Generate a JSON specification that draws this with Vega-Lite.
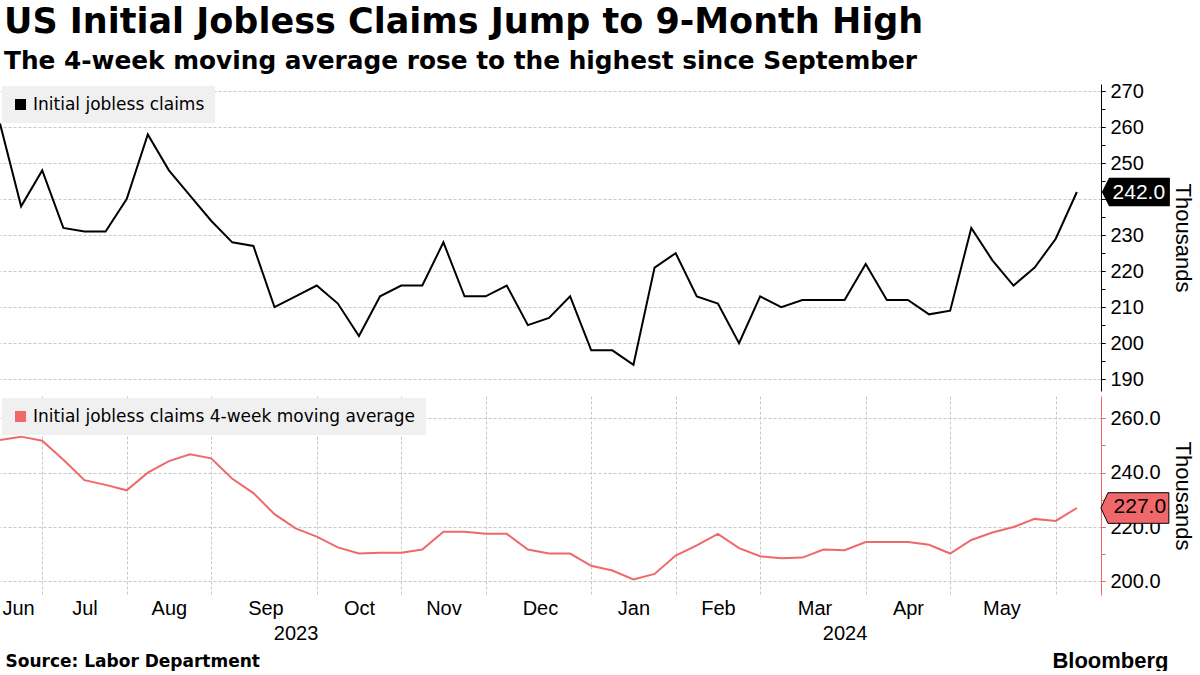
{
  "$schema": "https://vega.github.io/schema/vega-lite/v6.json",
  "background": "white",
  "padding": {"left": 0, "top": 4, "right": 0, "bottom": 0},
  "title": {
    "text": "US Initial Jobless Claims Jump to 9-Month High",
    "subtitle": "The 4-week moving average rose to the highest since September",
    "anchor": "start",
    "dx": 4,
    "font": "DejaVu Sans",
    "fontSize": 35,
    "fontWeight": "bold",
    "color": "#000000",
    "subtitleFont": "DejaVu Sans",
    "subtitleFontSize": 24.8,
    "subtitleFontWeight": "bold",
    "subtitleColor": "#000000",
    "subtitlePadding": 9,
    "offset": 7.5
  },
  "datasets": {
    "weekly": [
      {"date": "2023-06-17", "claims": 261, "avg": 252},
      {"date": "2023-06-24", "claims": 238, "avg": 253.25},
      {"date": "2023-07-01", "claims": 248, "avg": 251.75},
      {"date": "2023-07-08", "claims": 232, "avg": 244.75},
      {"date": "2023-07-15", "claims": 231, "avg": 237.25},
      {"date": "2023-07-22", "claims": 231, "avg": 235.5},
      {"date": "2023-07-29", "claims": 240, "avg": 233.5},
      {"date": "2023-08-05", "claims": 258, "avg": 240},
      {"date": "2023-08-12", "claims": 248, "avg": 244.25},
      {"date": "2023-08-19", "claims": 241, "avg": 246.75},
      {"date": "2023-08-26", "claims": 234, "avg": 245.25},
      {"date": "2023-09-02", "claims": 228, "avg": 237.75},
      {"date": "2023-09-09", "claims": 227, "avg": 232.5},
      {"date": "2023-09-16", "claims": 210, "avg": 224.75},
      {"date": "2023-09-23", "claims": 213, "avg": 219.5},
      {"date": "2023-09-30", "claims": 216, "avg": 216.5},
      {"date": "2023-10-07", "claims": 211, "avg": 212.5},
      {"date": "2023-10-14", "claims": 202, "avg": 210.25},
      {"date": "2023-10-21", "claims": 213, "avg": 210.5},
      {"date": "2023-10-28", "claims": 216, "avg": 210.5},
      {"date": "2023-11-04", "claims": 216, "avg": 211.75},
      {"date": "2023-11-11", "claims": 228, "avg": 218.25},
      {"date": "2023-11-18", "claims": 213, "avg": 218.25},
      {"date": "2023-11-25", "claims": 213, "avg": 217.5},
      {"date": "2023-12-02", "claims": 216, "avg": 217.5},
      {"date": "2023-12-09", "claims": 205, "avg": 211.75},
      {"date": "2023-12-16", "claims": 207, "avg": 210.25},
      {"date": "2023-12-23", "claims": 213, "avg": 210.25},
      {"date": "2023-12-30", "claims": 198, "avg": 205.75},
      {"date": "2024-01-06", "claims": 198, "avg": 204},
      {"date": "2024-01-13", "claims": 194, "avg": 200.75},
      {"date": "2024-01-20", "claims": 221, "avg": 202.75},
      {"date": "2024-01-27", "claims": 225, "avg": 209.5},
      {"date": "2024-02-03", "claims": 213, "avg": 213.25},
      {"date": "2024-02-10", "claims": 211, "avg": 217.5},
      {"date": "2024-02-17", "claims": 200, "avg": 212.25},
      {"date": "2024-02-24", "claims": 213, "avg": 209.25},
      {"date": "2024-03-02", "claims": 210, "avg": 208.5},
      {"date": "2024-03-09", "claims": 212, "avg": 208.75},
      {"date": "2024-03-16", "claims": 212, "avg": 211.75},
      {"date": "2024-03-23", "claims": 212, "avg": 211.5},
      {"date": "2024-03-30", "claims": 222, "avg": 214.5},
      {"date": "2024-04-06", "claims": 212, "avg": 214.5},
      {"date": "2024-04-13", "claims": 212, "avg": 214.5},
      {"date": "2024-04-20", "claims": 208, "avg": 213.5},
      {"date": "2024-04-27", "claims": 209, "avg": 210.25},
      {"date": "2024-05-04", "claims": 232, "avg": 215.25},
      {"date": "2024-05-11", "claims": 223, "avg": 218},
      {"date": "2024-05-18", "claims": 216, "avg": 220},
      {"date": "2024-05-25", "claims": 221, "avg": 223},
      {"date": "2024-06-01", "claims": 229, "avg": 222.25},
      {"date": "2024-06-08", "claims": 242, "avg": 227}
    ],
    "latest": [
      {"date": "2024-06-08", "claims": 242, "avg": 227}
    ]
  },
  "vconcat": [
    {
      "width": 1101,
      "height": 307,
      "layer": [
        {
          "data": {"name": "weekly"},
          "mark": {"type": "line", "color": "#000000", "strokeWidth": 2, "clip": true},
          "encoding": {
            "x": {
              "field": "date", "type": "temporal",
              "scale": {"domain": [{"year": 2023, "month": 6, "date": 17, "utc": true}, {"year": 2024, "month": 6, "date": 16, "utc": true}]},
              "axis": {
                "orient": "bottom",
                "values": [
                  {"year": 2023, "month": 7, "date": 1, "utc": true},
                  {"year": 2023, "month": 7, "date": 29, "utc": true},
                  {"year": 2023, "month": 8, "date": 26, "utc": true},
                  {"year": 2023, "month": 9, "date": 30, "utc": true},
                  {"year": 2023, "month": 10, "date": 28, "utc": true},
                  {"year": 2023, "month": 11, "date": 25, "utc": true},
                  {"year": 2023, "month": 12, "date": 30, "utc": true},
                  {"year": 2024, "month": 1, "date": 27, "utc": true},
                  {"year": 2024, "month": 2, "date": 24, "utc": true},
                  {"year": 2024, "month": 3, "date": 30, "utc": true},
                  {"year": 2024, "month": 4, "date": 27, "utc": true},
                  {"year": 2024, "month": 6, "date": 1, "utc": true}
                ],
                "grid": true, "labels": false, "ticks": false,
                "domain": true, "domainColor": "#333333", "domainWidth": 5, "offset": 2.5,
                "title": null
              }
            },
            "y": {
              "field": "claims", "type": "quantitative",
              "scale": {"domain": [186.7, 272], "nice": false, "zero": false},
              "axis": {
                "orient": "right",
                "values": [190, 200, 210, 220, 230, 240, 250, 260, 270],
                "format": "d",
                "grid": true,
                "domain": true, "domainColor": "#000000",
                "ticks": true, "tickColor": "#000000", "tickSize": 4,
                "labelPadding": 5,
                "title": "Thousands",
                "titlePadding": 27
              }
            }
          }
        },
        {
          "data": {"name": "latest"},
          "mark": {
            "type": "point",
            "shape": "M-1,0 L-0.79,-0.42 L1,-0.42 L1,0.42 L-0.79,0.42 Z",
            "size": 4624,
            "filled": true,
            "opacity": 1,
            "strokeWidth": 0,
            "xOffset": 59
          },
          "encoding": {
            "x": {"field": "date", "type": "temporal", "axis": null},
            "y": {
              "field": "claims", "type": "quantitative",
              "axis": {
                "orient": "right",
                "values": [190, 195, 200, 205, 210, 215, 220, 225, 230, 235, 240, 245, 250, 255, 260, 265, 270],
                "grid": false, "labels": false, "domain": false,
                "ticks": true, "tickColor": "#000000", "tickSize": 4,
                "title": null
              }
            },
            "color": {
              "datum": "Initial jobless claims", "type": "nominal",
              "scale": {"range": ["#000000"]},
              "legend": {"title": null, "symbolType": "square"}
            }
          }
        },
        {
          "data": {"name": "latest"},
          "mark": {"type": "text", "color": "#ffffff", "fontSize": 21, "font": "Liberation Sans", "align": "center", "baseline": "middle", "xOffset": 62, "yOffset": 1},
          "encoding": {
            "x": {"field": "date", "type": "temporal", "axis": null},
            "y": {"field": "claims", "type": "quantitative", "axis": null},
            "text": {"field": "claims", "type": "quantitative", "format": ".1f"}
          }
        }
      ],
      "resolve": {"axis": {"y": "independent"}}
    },
    {
      "width": 1101,
      "height": 199,
      "layer": [
        {
          "data": {"name": "weekly"},
          "mark": {"type": "line", "color": "#f0686a", "strokeWidth": 2, "clip": true},
          "encoding": {
            "x": {
              "field": "date", "type": "temporal",
              "scale": {"domain": [{"year": 2023, "month": 6, "date": 17, "utc": true}, {"year": 2024, "month": 6, "date": 16, "utc": true}]},
              "axis": {
                "orient": "bottom",
                "values": [
                  {"year": 2023, "month": 7, "date": 1, "utc": true},
                  {"year": 2023, "month": 7, "date": 29, "utc": true},
                  {"year": 2023, "month": 8, "date": 26, "utc": true},
                  {"year": 2023, "month": 9, "date": 30, "utc": true},
                  {"year": 2023, "month": 10, "date": 28, "utc": true},
                  {"year": 2023, "month": 11, "date": 25, "utc": true},
                  {"year": 2023, "month": 12, "date": 30, "utc": true},
                  {"year": 2024, "month": 1, "date": 27, "utc": true},
                  {"year": 2024, "month": 2, "date": 24, "utc": true},
                  {"year": 2024, "month": 3, "date": 30, "utc": true},
                  {"year": 2024, "month": 4, "date": 27, "utc": true},
                  {"year": 2024, "month": 6, "date": 1, "utc": true}
                ],
                "grid": true, "labels": false, "ticks": false, "domain": false,
                "title": null
              }
            },
            "y": {
              "field": "avg", "type": "quantitative",
              "scale": {"domain": [195, 268.2], "nice": false, "zero": false},
              "axis": {
                "orient": "right",
                "values": [200, 220, 240, 260],
                "format": ".1f",
                "grid": true,
                "domain": true, "domainColor": "#f0686a",
                "ticks": true, "tickColor": "#f0686a", "tickSize": 4,
                "labelPadding": 5,
                "title": "Thousands",
                "titlePadding": 10
              }
            }
          }
        },
        {
          "data": {"name": "latest"},
          "mark": {
            "type": "point",
            "shape": "M-1,0 L-0.79,-0.45 L1,-0.45 L1,0.45 L-0.79,0.45 Z",
            "size": 4624,
            "filled": true,
            "opacity": 1,
            "stroke": "#000000",
            "strokeWidth": 1,
            "xOffset": 58
          },
          "encoding": {
            "x": {
              "field": "date", "type": "temporal",
              "axis": {
                "orient": "bottom",
                "values": [
                  {"year": 2023, "month": 6, "date": 23, "utc": true},
                  {"year": 2023, "month": 7, "date": 15, "utc": true},
                  {"year": 2023, "month": 8, "date": 12, "utc": true},
                  {"year": 2023, "month": 9, "date": 13, "utc": true},
                  {"year": 2023, "month": 10, "date": 14, "utc": true},
                  {"year": 2023, "month": 11, "date": 11, "utc": true},
                  {"year": 2023, "month": 12, "date": 13, "utc": true},
                  {"year": 2024, "month": 1, "date": 13, "utc": true},
                  {"year": 2024, "month": 2, "date": 10, "utc": true},
                  {"year": 2024, "month": 3, "date": 13, "utc": true},
                  {"year": 2024, "month": 4, "date": 13, "utc": true},
                  {"year": 2024, "month": 5, "date": 14, "utc": true}
                ],
                "labelExpr": "utcFormat(datum.value, '%b')",
                "grid": false, "ticks": false, "domain": false,
                "labelPadding": 3, "labelFlush": false, "labelOverlap": false,
                "title": "Source: Labor Department",
                "titleFont": "DejaVu Sans", "titleFontWeight": "bold", "titleFontSize": 17,
                "titleAlign": "left", "titleAnchor": "start", "titleBaseline": "top",
                "titleX": 5, "titleY": 58
              }
            },
            "y": {
              "field": "avg", "type": "quantitative",
              "axis": {
                "orient": "right",
                "values": [200, 210, 220, 230, 240, 250, 260],
                "grid": false, "labels": false, "domain": false,
                "ticks": true, "tickColor": "#f0686a", "tickSize": 4,
                "title": null
              }
            },
            "color": {
              "datum": "Initial jobless claims 4-week moving average", "type": "nominal",
              "scale": {"range": ["#f0686a"]},
              "legend": {"title": null, "symbolType": "square", "symbolStrokeWidth": 0}
            }
          }
        },
        {
          "data": {"name": "latest"},
          "mark": {"type": "text", "color": "#000000", "fontSize": 21, "font": "Liberation Sans", "align": "center", "baseline": "middle", "xOffset": 63, "yOffset": -1},
          "encoding": {
            "x": {
              "field": "date", "type": "temporal",
              "axis": {
                "orient": "bottom",
                "values": [
                  {"year": 2023, "month": 9, "date": 23, "utc": true},
                  {"year": 2024, "month": 3, "date": 23, "utc": true}
                ],
                "labelExpr": "utcFormat(datum.value, '%Y')",
                "grid": false, "ticks": false, "domain": false,
                "labelPadding": 28, "labelFlush": false, "labelOverlap": false,
                "title": "Bloomberg",
                "titleFont": "Liberation Sans", "titleFontWeight": "bold", "titleFontSize": 22,
                "titleAlign": "right", "titleAnchor": "end", "titleBaseline": "top",
                "titleX": 1168, "titleY": 55
              }
            },
            "y": {"field": "avg", "type": "quantitative", "axis": null},
            "text": {"field": "avg", "type": "quantitative", "format": ".1f"}
          }
        }
      ],
      "resolve": {"axis": {"x": "independent", "y": "independent"}}
    }
  ],
  "spacing": 5,
  "bounds": "flush",
  "resolve": {"scale": {"color": "independent"}},
  "config": {
    "view": {"stroke": null},
    "font": "Liberation Sans",
    "axis": {
      "labelFont": "Liberation Sans",
      "labelFontSize": 20,
      "labelColor": "#000000",
      "titleFont": "Liberation Sans",
      "titleFontSize": 22,
      "titleFontWeight": "normal",
      "titleColor": "#000000",
      "gridColor": "#c8c8c8",
      "gridDash": [3, 2],
      "gridWidth": 1
    },
    "legend": {
      "orient": "top-left",
      "offset": 2,
      "padding": 10,
      "fillColor": "#f0f0f0",
      "symbolSize": 121,
      "symbolType": "square",
      "labelOffset": 4,
      "labelFont": "DejaVu Sans",
      "labelFontSize": 17,
      "labelColor": "#000000",
      "labelLimit": 600
    }
  }
}
